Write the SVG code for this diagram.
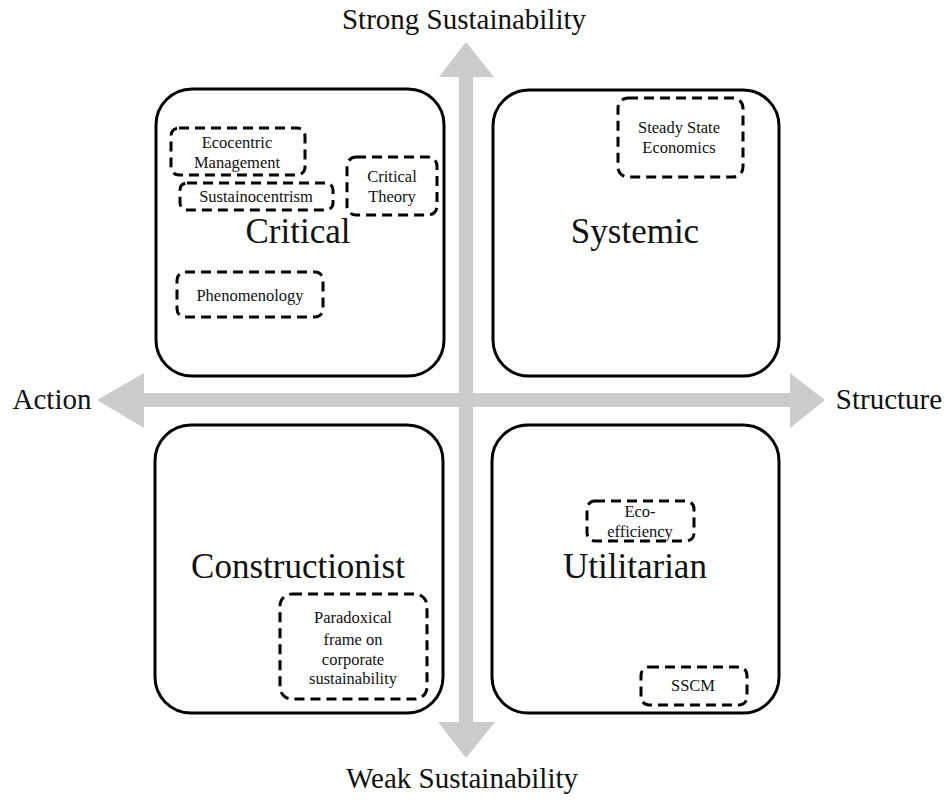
<svg xmlns="http://www.w3.org/2000/svg" width="952" height="802" viewBox="0 0 952 802">
<style>
.q{fill:#fff;stroke:#000;stroke-width:3}
.d{fill:none;stroke:#000;stroke-width:3;stroke-dasharray:10 6}
.t{font-family:"Liberation Serif","Times New Roman",serif;fill:#111;text-anchor:middle}
.s{font-size:16.5px}
.b{font-size:35px}
.a{font-size:29px}
.ar{fill:#cccccc}
</style>
<rect width="952" height="802" fill="#fff"/>
<g id="connectors">
<polygon class="ar" points="466,42 494,77 473,77 473,722 495,722 466,758 438,722 459,722 459,77 439,77"/>
<polygon class="ar" points="97,400 144,373 144,393 790,393 790,373 825,400 790,428 790,407 144,407 144,428"/>
</g>
<g id="axis-labels">
<text class="t a" x="464" y="29">Strong  Sustainability</text>
<text class="t a" x="462" y="788">Weak Sustainability</text>
<text class="t a" x="52" y="409">Action</text>
<text class="t a" x="889" y="409">Structure</text>
</g>
<g id="critical">
<rect class="q" x="156" y="89" width="288" height="287" rx="36"/>
<text class="t b" x="298" y="243">Critical</text>
</g>
<g id="systemic">
<rect class="q" x="493" y="90" width="286" height="286" rx="36"/>
<text class="t b" x="635" y="243">Systemic</text>
</g>
<g id="constructionist">
<rect class="q" x="155" y="425" width="288" height="288" rx="36"/>
<text class="t b" x="298" y="578">Constructionist</text>
</g>
<g id="utilitarian">
<rect class="q" x="492" y="425" width="287" height="288" rx="36"/>
<text class="t b" x="635" y="578">Utilitarian</text>
</g>
<g id="ecocentric-management">
<rect class="d" x="171" y="128" width="134" height="47" rx="8"/>
<text class="t s" x="237" y="148">Ecocentric</text>
<text class="t s" x="237" y="168">Management</text>
</g>
<g id="sustainocentrism">
<rect class="d" x="180" y="183" width="153" height="27" rx="7"/>
<text class="t s" x="256" y="202">Sustainocentrism</text>
</g>
<g id="critical-theory">
<rect class="d" x="347" y="157" width="90" height="58" rx="9"/>
<text class="t s" x="392" y="182">Critical</text>
<text class="t s" x="392" y="202">Theory</text>
</g>
<g id="phenomenology">
<rect class="d" x="177" y="272" width="146" height="45" rx="8"/>
<text class="t s" x="250" y="301">Phenomenology</text>
</g>
<g id="steady-state-economics">
<rect class="d" x="618" y="98" width="125" height="79" rx="10"/>
<text class="t s" x="679" y="133">Steady State</text>
<text class="t s" x="679" y="153">Economics</text>
</g>
<g id="paradoxical-frame">
<rect class="d" x="280" y="594" width="147" height="105" rx="12"/>
<text class="t s" x="353" y="623">Paradoxical</text>
<text class="t s" x="353" y="645">frame  on</text>
<text class="t s" x="353" y="665">corporate</text>
<text class="t s" x="353" y="684">sustainability</text>
</g>
<g id="eco-efficiency">
<rect class="d" x="587" y="501" width="107" height="40" rx="8"/>
<text class="t s" x="640" y="517">Eco-</text>
<text class="t s" x="640" y="537">efficiency</text>
</g>
<g id="sscm">
<rect class="d" x="641" y="667" width="106" height="38" rx="8"/>
<text class="t s" x="693" y="691">SSCM</text>
</g>
</svg>
